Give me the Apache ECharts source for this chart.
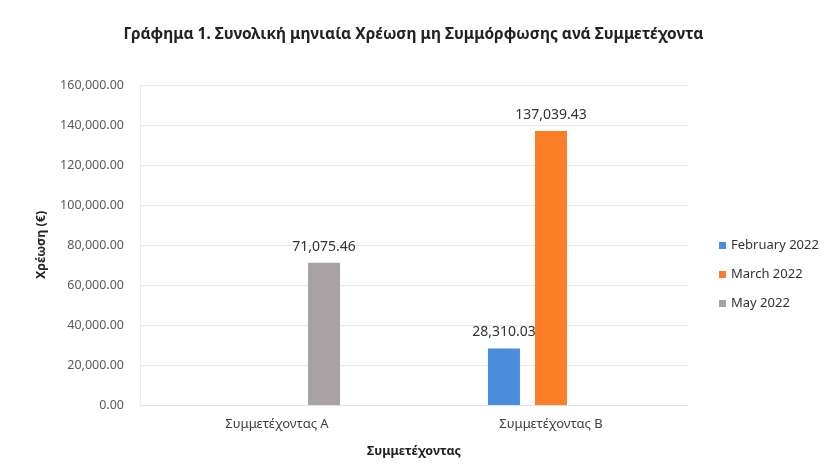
<!DOCTYPE html>
<html>
<head>
<meta charset="utf-8">
<script src="https://cdn.jsdelivr.net/npm/echarts@6/dist/echarts.min.js"></script>
<style>
  html, body { margin: 0; padding: 0; background: #fff; }
  #main { width: 827px; height: 475px; }
</style>
</head>
<body>
<div id="main"></div>
<script>
// categories and series values
var participants = ["Συμμετέχοντας Α", "Συμμετέχοντας Β"];
var february2022 = [null, 28310.03];
var march2022 = [null, 137039.43];
var may2022 = [71075.46, null];
var seriesNames = ["February 2022", "March 2022", "May 2022"];

var fontFamily = "'Noto Sans', 'DejaVu Sans', sans-serif";

function money(v) {
  return Number(v).toLocaleString("en-US", { minimumFractionDigits: 2, maximumFractionDigits: 2 });
}

var chart = echarts.init(document.getElementById("main"));

function barSeries(name, data, color) {
  return {
    name: name,
    type: "bar",
    data: data,
    barWidth: 32,
    barGap: "47%",
    itemStyle: { color: color },
    label: {
      show: true,
      position: "top",
      distance: 9,
      color: "#333",
      fontSize: 14,
      fontFamily: fontFamily,
      formatter: function (p) { return money(p.value); }
    }
  };
}

var option = {
  backgroundColor: "#fff",
  animation: false,
  title: {
    text: "Γράφημα 1. Συνολική μηνιαία Χρέωση μη Συμμόρφωσης ανά Συμμετέχοντα",
    left: "center",
    top: 22,
    textStyle: { fontFamily: fontFamily, fontSize: 15.5, fontWeight: "bold", color: "#222" }
  },
  legend: {
    orient: "vertical",
    left: 714,
    top: 234,
    itemWidth: 7,
    itemHeight: 7,
    itemGap: 16,
    icon: "rect",
    data: seriesNames,
    textStyle: { fontFamily: fontFamily, fontSize: 13, color: "#333" }
  },
  grid: { left: 140, right: 139, top: 85, bottom: 70 },
  xAxis: {
    type: "category",
    data: participants,
    name: "Συμμετέχοντας",
    nameLocation: "middle",
    nameGap: 40,
    nameTextStyle: { fontFamily: fontFamily, fontSize: 12.5, fontWeight: "bold", color: "#222" },
    axisLine: { show: true, lineStyle: { color: "#e3e3e3" } },
    axisTick: { show: false },
    axisLabel: { margin: 13, fontFamily: fontFamily, fontSize: 13, color: "#404040" }
  },
  yAxis: {
    type: "value",
    min: 0,
    max: 160000,
    interval: 20000,
    name: "Χρέωση (€)",
    nameLocation: "middle",
    nameGap: 92,
    nameTextStyle: { fontFamily: fontFamily, fontSize: 12.5, fontWeight: "bold", color: "#222" },
    axisLine: { show: true, lineStyle: { color: "#ececec" } },
    axisLabel: {
      margin: 16,
      fontFamily: fontFamily,
      fontSize: 12.5,
      color: "#595959",
      formatter: function (v) { return money(v); }
    },
    splitLine: { lineStyle: { color: "#e8e8e8" } }
  },
  series: [
    barSeries(seriesNames[0], february2022, "#4a8ddc"),
    barSeries(seriesNames[1], march2022, "#fd7e28"),
    barSeries(seriesNames[2], may2022, "#a8a2a5")
  ]
};

chart.setOption(option);
</script>
</body>
</html>
